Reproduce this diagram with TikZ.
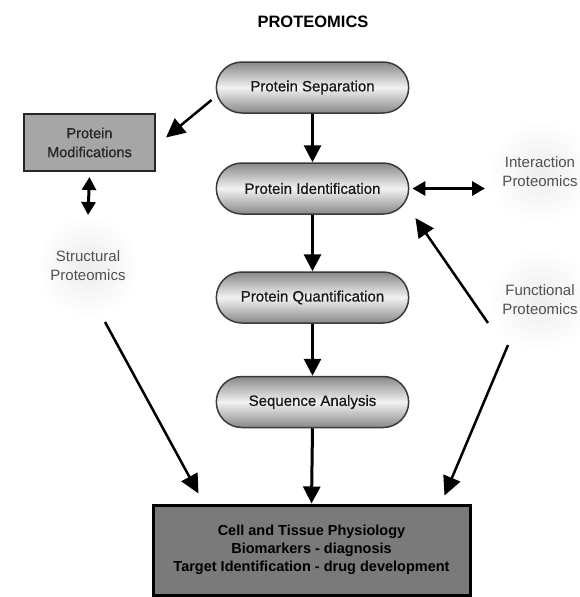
\documentclass[tikz,border=0pt]{standalone}
\usepackage{fontspec}
\setmainfont{Liberation Sans}
\newfontfamily\pillfont[FakeBold=0.8]{Liberation Sans}
\usetikzlibrary{arrows.meta,shapes.misc}
\definecolor{pillborder}{HTML}{3A3A3A}
\definecolor{pilldark}{HTML}{888888}
\definecolor{pilllight}{HTML}{F2F2F2}
\definecolor{modfill}{HTML}{A6A6A6}
\definecolor{botfill}{HTML}{7A7A7A}
\definecolor{sidetext}{HTML}{505050}
\tikzset{
  pill/.style={rounded rectangle, minimum width=199pt, minimum height=51pt,
    draw=pillborder, line width=1.5pt, top color=pilldark, bottom color=pilldark,
    middle color=pilllight, font=\pillfont\fontsize{15}{18}\selectfont, text=black!90},
  side/.style={circle, minimum size=104pt, inner color=black!7, outer color=white,
    align=center, font=\fontsize{15}{19}\selectfont, text=sidetext},
  arr/.style={line width=3pt, -{Triangle[length=17pt,width=17pt]}},
  darr/.style={line width=3pt, {Triangle[length=13pt,width=14pt]}-{Triangle[length=13pt,width=14pt]}},
  thinarr/.style={line width=2.5pt, -{Triangle[length=19pt,width=18pt]}}
}
\begin{document}
\begin{tikzpicture}[x=1pt,y=-1pt]
\useasboundingbox[fill=white] (0,0) rectangle (580,597);
% faint glow nodes with labels
\node[side] (str) at (88,266) {Structural\\Proteomics};
\node[side] (inter) at (540,172) {Interaction\\Proteomics};
\node[side] (fun) at (540,300) {Functional\\Proteomics};
% title
\node[font=\bfseries\fontsize{16.5}{20}\selectfont] (title) at (313,22) {PROTEOMICS};
% pills
\node[pill] (sep) at (312.5,87.5) {Protein Separation};
\node[pill] (ident) at (312.5,188.5) {Protein Identification};
\node[pill] (quant) at (312.5,297.5) {Protein Quantification};
\node[pill] (seq) at (312.5,402) {Sequence Analysis};
% modifications box
\node[draw=black!85, line width=2pt, fill=modfill, minimum width=131pt, minimum height=57pt,
  align=center, font=\pillfont\fontsize{14.5}{19}\selectfont, text=black!85] (mod) at (89.5,142.5)
  {Protein\\Modifications};
% bottom box
\node[draw=black, line width=3pt, fill=botfill, minimum width=317pt, minimum height=90pt,
  align=center, font=\bfseries\fontsize{14.5}{18}\selectfont] (bot) at (311.5,550)
  {Cell and Tissue Physiology\\Biomarkers - diagnosis\\Target Identification - drug development};
% arrows
\draw[arr] (sep.south) -- (ident.north);
\draw[arr] (ident.south) -- (quant.north);
\draw[arr] (quant.south) -- (seq.north);
\draw[arr] (seq.south) -- (bot.north);
\draw[thinarr] ([shift={(-4pt,-12.5pt)}]sep.west) -- ([shift={(10pt,5pt)}]mod.east);
\draw[darr] ([yshift=-5pt]mod.south) -- ([yshift=51pt]str.center);
\draw[darr] ([xshift=3pt]ident.east) -- ([xshift=-55pt]inter.center |- ident.east);
\draw[thinarr] ([shift={(-52pt,-23pt)}]fun.center) -- ([shift={(6pt,-29.5pt)}]ident.east);
\draw[thinarr] ([shift={(17pt,-56pt)}]str.center) -- ([shift={(47pt,10pt)}]bot.north west);
\draw[thinarr] ([shift={(-32pt,-45pt)}]fun.center) -- ([shift={(-27pt,8pt)}]bot.north east);
\end{tikzpicture}
\end{document}
